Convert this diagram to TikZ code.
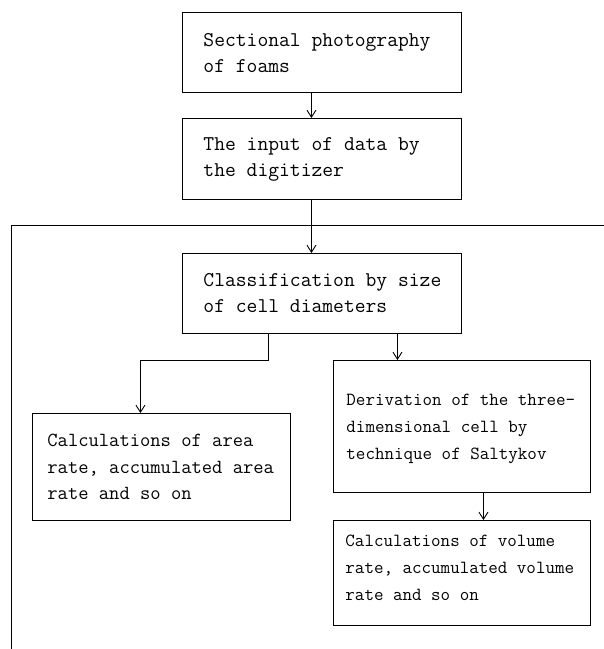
\documentclass[tikz,border=0pt]{standalone}
\usetikzlibrary{arrows.meta}
\begin{document}
\begin{tikzpicture}[x=1pt,y=-1pt,
  line width=0.9pt,
  box/.style={draw, line width=0.9pt, anchor=north west, inner sep=0pt},
  txt/.style={anchor=west, align=left, inner sep=0pt},
  fa/.style={font=\ttfamily\fontsize{21}{26}\selectfont},
  fb/.style={font=\ttfamily\fontsize{20}{26.5}\selectfont},
  fc/.style={font=\ttfamily\fontsize{18.5}{27}\selectfont},
  arr/.style={-{Straight Barb[length=7pt,width=9pt,line width=0.9pt]}}]
\useasboundingbox (0,0) rectangle (604,649);
\node[box, minimum width=279pt, minimum height=80pt] (b1) at (182,12) {};
\node[box, minimum width=279pt, minimum height=81pt] (b2) at (182,118) {};
\node[box, minimum width=279pt, minimum height=80pt] (b3) at (182,253) {};
\node[box, minimum width=258pt, minimum height=107pt] (b4) at (32,413) {};
\node[box, minimum width=257pt, minimum height=132pt] (b5) at (333,360) {};
\node[box, minimum width=257pt, minimum height=105pt] (b6) at (333,520) {};
\node[txt, fa] (t1) at ([xshift=21pt,yshift=-1pt]b1.west) {Sectional photography\\of foams};
\node[txt, fa] (t2) at ([xshift=21pt]b2.west) {The input of data by\\the digitizer};
\node[txt, fa] (t3) at ([xshift=21pt]b3.west) {Classification by size\\of cell diameters};
\node[txt, fb] (t4) at ([xshift=15pt]b4.west) {Calculations of area\\rate, accumulated area\\rate and so on};
\node[txt, fc] (t5) at ([xshift=13pt,yshift=-2pt]b5.west) {Derivation of the three-\\dimensional cell by\\technique of Saltykov};
\node[txt, fc] (t6) at ([xshift=12pt,yshift=5pt]b6.west) {Calculations of volume\\rate, accumulated volume\\rate and so on};
\coordinate (L0) at (604,225);
\coordinate (L1) at (11,225);
\coordinate (L2) at (11,649);
\draw (L0) -- (L1) -- (L2);
\draw[arr] ([xshift=-10.5pt]b1.south) -- ([xshift=-10.5pt]b2.north);
\draw[arr] ([xshift=-10.5pt]b2.south) -- ([xshift=-10.5pt]b3.north);
\draw[arr] ([xshift=-53.5pt]b3.south) -- ++(0,27) -| ([xshift=-21pt]b4.north);
\draw[arr] ([xshift=75.5pt]b3.south) -- ([xshift=-64.5pt]b5.north);
\draw[arr] ([xshift=21.5pt]b5.south) -- ([xshift=21.5pt]b6.north);
\end{tikzpicture}
\end{document}
